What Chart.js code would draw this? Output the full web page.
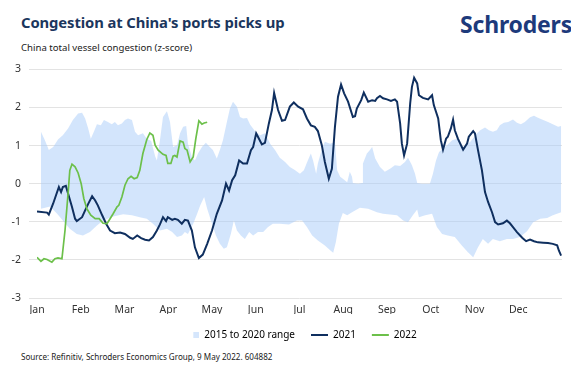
<!DOCTYPE html>
<html>
<head>
<meta charset="utf-8">
<script src="https://cdn.jsdelivr.net/npm/chart.js@4/dist/chart.umd.min.js"></script>
<style>
  html, body { margin: 0; padding: 0; background: #fff; }
  body { width: 571px; height: 370px; position: relative; overflow: hidden; font-family: "Noto Sans", "Open Sans", sans-serif; }
  .title { position: absolute; left: 21px; top: 12px; font-size: 14.8px; font-weight: 700; color: #1b365d; letter-spacing: -0.1px; }
  .logo { position: absolute; left: 460px; top: 8px; font-size: 23px; font-weight: 700; color: #1d3a7b; letter-spacing: -0.2px; }
  .sub { position: absolute; left: 21px; top: 41px; font-size: 9.6px; color: #222; }
  .src { position: absolute; left: 21px; top: 351px; font-size: 8.1px; color: #222; }
  #wrap { position: absolute; left: 0; top: 55px; width: 571px; height: 295px; }
</style>
</head>
<body>
<div class="title">Congestion at China's ports picks up</div>
<div class="logo">Schroders</div>
<div class="sub">China total vessel congestion (z-score)</div>
<div id="wrap"><canvas id="c"></canvas></div>
<div class="src">Source: Refinitiv, Schroders Economics Group, 9 May 2022. 604882</div>
<script>
const months = ['Jan', 'Feb', 'Mar', 'Apr', 'May', 'Jun', 'Jul', 'Aug', 'Sep', 'Oct', 'Nov', 'Dec'];

// x values are in months from 1 Jan (0 = Jan, 12 = end of Dec)
const x2021 = [0.00, 0.23, 0.27, 0.37, 0.46, 0.50, 0.55, 0.59, 0.66, 0.71, 0.80, 0.87, 0.91, 1.03, 1.10, 1.17, 1.26, 1.33, 1.39, 1.49,
  1.58, 1.67, 1.78, 1.90, 2.01, 2.13, 2.19, 2.29, 2.38, 2.47, 2.56, 2.65, 2.74, 2.81, 2.88, 2.95, 2.99, 3.09, 3.15, 3.22,
  3.31, 3.38, 3.45, 3.54, 3.61, 3.70, 3.79, 3.89, 4.00, 4.11, 4.23, 4.32, 4.39, 4.46, 4.53, 4.62, 4.71, 4.80, 4.89, 4.94,
  5.01, 5.05, 5.14, 5.21, 5.30, 5.37, 5.42, 5.51, 5.60, 5.67, 5.78, 5.87, 5.97, 6.08, 6.17, 6.26, 6.35, 6.42, 6.51, 6.58,
  6.67, 6.74, 6.81, 6.88, 6.95, 7.02, 7.11, 7.22, 7.27, 7.31, 7.41, 7.47, 7.57, 7.66, 7.73, 7.77, 7.84, 7.91, 8.00, 8.09,
  8.18, 8.23, 8.30, 8.34, 8.39, 8.46, 8.53, 8.57, 8.62, 8.69, 8.73, 8.82, 8.94, 9.03, 9.07, 9.17, 9.23, 9.28, 9.35, 9.39,
  9.46, 9.51, 9.55, 9.62, 9.74, 9.83, 9.87, 9.97, 10.01, 10.08, 10.17, 10.24, 10.31, 10.40, 10.47, 10.54, 10.65, 10.74, 10.81, 10.88,
  10.97, 11.09, 11.18, 11.27, 11.36, 11.45, 11.57, 11.68, 11.79, 11.89, 11.93, 11.98];
const y2021 = [-0.73, -0.76, -0.81, -0.52, -0.22, -0.09, -0.22, -0.09, -0.06, -0.26, -0.61, -0.92, -0.98, -0.88, -0.70, -0.53, -0.33, -0.44, -0.57, -0.83,
  -1.05, -1.23, -1.30, -1.28, -1.32, -1.42, -1.45, -1.36, -1.43, -1.47, -1.49, -1.40, -1.23, -1.07, -0.88, -0.98, -0.88, -0.95, -0.92, -0.95,
  -1.05, -0.95, -0.97, -1.23, -1.67, -1.95, -1.86, -1.58, -1.23, -0.79, -0.44, 0.00, -0.18, 0.09, 0.22, 0.61, 0.53, 0.53, 0.88, 0.96,
  1.32, 1.23, 1.03, 1.07, 1.58, 1.93, 2.38, 1.93, 1.65, 1.67, 2.02, 2.13, 2.02, 1.95, 1.71, 1.53, 1.49, 1.38, 1.01, 0.57,
  0.13, 0.39, 1.49, 2.28, 2.60, 2.37, 2.15, 1.75, 1.77, 1.97, 2.19, 2.39, 2.15, 2.19, 2.17, 2.24, 2.30, 2.24, 2.21, 2.17,
  2.21, 2.15, 1.58, 1.05, 0.74, 1.05, 2.11, 2.54, 2.78, 2.63, 2.32, 2.25, 2.21, 2.32, 2.06, 1.71, 1.14, 0.89, 1.18, 1.23,
  1.45, 1.68, 1.40, 1.18, 0.89, 1.05, 1.23, 1.38, 1.32, 0.88, 0.35, -0.22, -0.48, -0.75, -1.01, -1.07, -1.04, -0.97, -1.04, -1.14,
  -1.27, -1.42, -1.51, -1.47, -1.51, -1.54, -1.55, -1.56, -1.58, -1.62, -1.76, -1.89];

const x2022 = [0.00, 0.09, 0.16, 0.23, 0.34, 0.41, 0.48, 0.57, 0.64, 0.71, 0.75, 0.80, 0.87, 0.94, 1.01, 1.07, 1.14, 1.23, 1.33, 1.42,
  1.51, 1.60, 1.67, 1.74, 1.83, 1.87, 1.94, 2.01, 2.08, 2.15, 2.22, 2.29, 2.35, 2.42, 2.51, 2.58, 2.65, 2.70, 2.77, 2.88,
  2.95, 2.99, 3.06, 3.11, 3.15, 3.20, 3.27, 3.34, 3.38, 3.43, 3.50, 3.57, 3.63, 3.70, 3.77, 3.82, 3.89];
const y2022 = [-1.93, -2.04, -1.97, -1.99, -2.06, -1.97, -1.95, -1.97, -1.23, -0.26, 0.35, 0.51, 0.44, 0.28, 0.00, -0.39, -0.66, -0.83, -0.92, -0.92,
  -1.04, -1.05, -0.92, -0.79, -0.61, -0.57, -0.35, -0.04, 0.13, 0.19, 0.13, 0.16, 0.35, 0.79, 1.16, 1.33, 1.27, 1.01, 0.88, 0.77,
  0.74, 0.53, 0.53, 0.72, 0.74, 0.70, 1.12, 1.09, 0.92, 0.88, 0.57, 0.70, 1.18, 1.65, 1.56, 1.59, 1.61];

// 2015 to 2020 range: upper and lower edges
const xHigh = [0.09, 0.18, 0.27, 0.37, 0.48, 0.59, 0.71, 0.82, 0.94, 1.03, 1.10, 1.17, 1.23, 1.30, 1.37, 1.46, 1.53, 1.62, 1.71, 1.78,
  1.85, 1.94, 2.01, 2.08, 2.17, 2.24, 2.31, 2.42, 2.51, 2.61, 2.70, 2.74, 2.81, 2.88, 2.97, 3.04, 3.11, 3.20, 3.27, 3.34,
  3.41, 3.45, 3.54, 3.61, 3.68, 3.77, 3.86, 3.95, 4.02, 4.11, 4.18, 4.25, 4.34, 4.41, 4.48, 4.57, 4.64, 4.71, 4.80, 4.87,
  4.98, 5.10, 5.21, 5.33, 5.44, 5.55, 5.67, 5.78, 5.90, 6.01, 6.10, 6.19, 6.26, 6.31, 6.38, 6.42, 6.51, 6.58, 6.70, 6.81,
  6.86, 6.93, 6.99, 7.09, 7.15, 7.20, 7.22, 7.34, 7.43, 7.45, 7.54, 7.61, 7.66, 7.73, 7.84, 7.95, 8.07, 8.18, 8.30, 8.41,
  8.48, 8.57, 8.64, 8.69, 8.80, 8.98, 9.05, 9.12, 9.19, 9.28, 9.37, 9.49, 9.60, 9.74, 9.90, 10.06, 10.13, 10.24, 10.33, 10.42,
  10.51, 10.58, 10.67, 10.77, 10.88, 10.97, 11.06, 11.15, 11.27, 11.36, 11.45, 11.57, 11.68, 11.79, 11.91, 11.98];
const yHigh = [1.36, 1.14, 0.88, 0.96, 1.16, 1.27, 1.45, 1.67, 1.84, 1.86, 1.71, 1.45, 1.18, 1.36, 1.56, 1.53, 1.67, 1.62, 1.56, 1.62,
  1.53, 1.58, 1.67, 1.71, 1.67, 1.36, 1.27, 1.32, 1.18, 1.12, 0.72, 0.61, 1.14, 1.75, 1.90, 1.62, 0.96, 1.01, 1.32, 1.49,
  1.51, 1.05, 0.70, 0.61, 0.79, 0.96, 1.07, 0.96, 0.88, 0.66, 0.88, 1.14, 1.62, 1.97, 2.15, 2.02, 1.75, 1.71, 1.72, 1.55,
  1.38, 1.27, 1.32, 1.05, 0.88, 0.68, 0.57, 0.44, 0.35, 0.26, 0.35, 0.61, 0.79, 0.61, 0.26, 0.53, 0.90, 1.10, 1.05, 1.09,
  0.35, 0.18, 0.13, 0.04, 0.31, 0.18, 0.02, 0.00, 0.02, 0.53, 0.79, 0.88, 0.96, 0.66, 0.44, 0.31, 0.39, 0.48, 0.46, 0.57,
  0.68, 0.48, 0.26, 0.02, 0.00, 0.00, 0.26, 0.61, 0.83, 0.92, 1.01, 1.14, 1.18, 0.96, 1.09, 1.32, 1.40, 1.47, 1.40, 1.36,
  1.40, 1.53, 1.60, 1.62, 1.68, 1.60, 1.56, 1.62, 1.74, 1.78, 1.73, 1.67, 1.62, 1.56, 1.49, 1.51];

const xLow = [0.09, 0.23, 0.30, 0.46, 0.59, 0.75, 0.91, 1.05, 1.21, 1.37, 1.51, 1.74, 1.97, 2.17, 2.35, 2.51, 2.65, 2.81, 2.97, 3.09,
  3.20, 3.31, 3.38, 3.45, 3.57, 3.66, 3.73, 3.82, 3.89, 4.00, 4.09, 4.18, 4.27, 4.34, 4.43, 4.50, 4.57, 4.66, 4.75, 4.85,
  4.94, 5.05, 5.17, 5.28, 5.39, 5.55, 5.76, 5.94, 6.06, 6.17, 6.29, 6.42, 6.58, 6.70, 6.77, 6.83, 6.90, 6.99, 7.09, 7.20,
  7.38, 7.57, 7.77, 7.91, 8.07, 8.23, 8.37, 8.48, 8.59, 8.69, 8.73, 8.87, 9.03, 9.14, 9.26, 9.39, 9.55, 9.71, 9.85, 9.97,
  10.08, 10.19, 10.31, 10.42, 10.58, 10.74, 10.88, 11.04, 11.20, 11.34, 11.50, 11.66, 11.79, 11.98];
const yLow = [-0.66, -0.62, -0.60, -0.79, -0.97, -1.18, -1.32, -1.36, -1.27, -1.10, -0.97, -0.86, -0.80, -0.83, -0.88, -0.92, -1.05, -1.23, -1.18, -1.27,
  -1.40, -1.36, -1.27, -1.32, -1.05, -0.79, -0.57, -0.35, -0.66, -1.05, -1.36, -1.58, -1.71, -1.67, -1.32, -0.97, -1.23, -1.36, -1.45, -1.27,
  -1.36, -1.27, -1.27, -1.14, -1.05, -1.05, -1.07, -0.97, -0.97, -1.14, -1.36, -1.49, -1.62, -1.75, -1.81, -1.54, -1.05, -0.77, -0.83, -0.75,
  -0.63, -0.66, -0.75, -0.79, -0.81, -0.83, -0.97, -1.01, -0.83, -0.68, -0.88, -0.83, -0.79, -1.14, -1.32, -1.36, -1.40, -1.62, -1.80, -1.93,
  -1.67, -1.45, -1.58, -1.45, -1.51, -1.45, -1.45, -1.40, -1.25, -1.01, -0.92, -0.90, -0.83, -0.75];

const NAVY = '#0f2f5f', GREEN = '#6cc04a', BAND = 'rgba(168,204,250,0.5)';

const pts = (xs, ys) => xs.map((x, i) => ({ x, y: ys[i] }));

// small square used as the legend marker of the range band
const bandMark = document.createElement('canvas');
bandMark.width = 17; bandMark.height = 6;
const bm = bandMark.getContext('2d');
bm.fillStyle = '#d5e6fc';
bm.fillRect(11, 0, 6, 6);

const ctx = document.getElementById('c');
new Chart(ctx, {
  type: 'line',
  data: {
    datasets: [
      { label: '2022', data: pts(x2022, y2022), borderColor: GREEN, borderWidth: 1.7, pointRadius: 0, tension: 0, fill: false },
      { label: '2021', data: pts(x2021, y2021), borderColor: NAVY, borderWidth: 2, pointRadius: 0, tension: 0, fill: false },
      { label: 'high', data: pts(xHigh, yHigh), borderWidth: 0, borderColor: 'rgba(0,0,0,0)', backgroundColor: BAND, pointRadius: 0, tension: 0, fill: 3 },
      { label: 'low', data: pts(xLow, yLow), borderWidth: 0, borderColor: 'rgba(0,0,0,0)', pointRadius: 0, tension: 0, fill: false },
    ],
  },
  options: {
    responsive: true, maintainAspectRatio: false, animation: false,
    layout: { padding: { top: 9, right: 9, left: 0, bottom: 0 } },
    scales: {
      x: {
        type: 'linear', min: 0, max: 12,
        grid: { display: false, drawTicks: false }, border: { display: false },
        afterFit: s => { s.height = 16; },
        ticks: {
          stepSize: 1, autoSkip: false, maxRotation: 0, padding: 6, color: '#333',
          font: { family: 'Noto Sans', size: 10.5 },
          callback: v => months[v] || '',
        },
      },
      y: {
        min: -3, max: 3,
        grid: { color: '#e3e3e3', lineWidth: 1 }, border: { display: false },
        afterFit: s => { s.width = 37; },
        ticks: { stepSize: 1, padding: 8, color: '#333', font: { family: 'Noto Sans', size: 10.5 } },
      },
    },
    plugins: {
      tooltip: { enabled: false },
      legend: {
        position: 'bottom', fullSize: false,
        labels: {
          usePointStyle: true, pointStyleWidth: 17, padding: 16, color: '#222',
          font: { family: 'Noto Sans', size: 10 },
          generateLabels: () => [
            { text: '2015 to 2020 range', pointStyle: bandMark, fillStyle: '#d5e6fc', strokeStyle: '#d5e6fc', lineWidth: 0, datasetIndex: 2 },
            { text: '2021', pointStyle: 'line', strokeStyle: NAVY, lineWidth: 2, datasetIndex: 1 },
            { text: '2022', pointStyle: 'line', strokeStyle: GREEN, lineWidth: 2, datasetIndex: 0 },
          ],
        },
      },
    },
  },
});
</script>
</body>
</html>
